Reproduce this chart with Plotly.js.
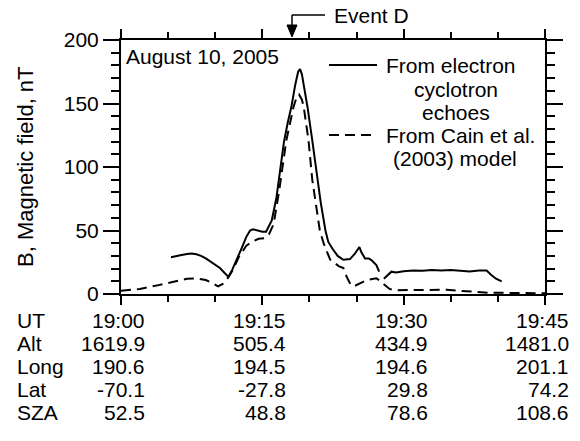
<!DOCTYPE html>
<html>
<head>
<meta charset="utf-8">
<script src="https://cdn.plot.ly/plotly-3.0.1.min.js"></script>
<style>html,body{margin:0;padding:0;background:#fff;}#chart{width:580px;height:441px;}</style>
</head>
<body>
<div id="chart"></div>
<script>
// ---- Data (minutes after 19:00 UT, B in nT) ----
const echoTime = [5.3,5.8,6.3,7.0,7.5,8.0,8.5,9.0,9.5,10.0,10.5,11.0,11.4,11.8,12.3,12.8,13.3,13.7,14.0,14.5,15.0,15.4,15.7,16.0,16.5,17.0,17.3,17.7,18.1,18.5,18.8,19.0,19.2,19.5,19.8,20.3,20.7,21.0,21.2,21.7,22.0,22.5,23.0,23.6,24.0,24.3,24.8,25.3,25.5,25.9,26.3,26.6,27.1,27.4,27.6,27.9,28.3,28.7,29.2,30.0,31.0,32.0,33.0,34.0,35.0,36.0,37.0,38.0,38.8,39.3,39.8,40.4];
const echoB    = [29,29.5,30.5,31.5,31.8,31.3,30,28,25.5,23,20.5,16.5,13.5,19,27,36,45,50,51,50,49,49,53,58,76,105,120,135,148,165,175,177,173,160,147,121,100,82,72,50,41,35,30,27,27,27.5,31.5,37,33,28,28,26.5,22.8,17.6,null,12,15,17.6,17,18,18.5,18.3,18.8,18.5,18.8,18.3,17.8,18.5,18.5,15,12,10];
const modelTime = [0,2,4,5.5,7,8,9,9.7,10.3,10.8,11.2,11.8,12.5,13.3,13.9,14.6,15.2,15.7,16.2,16.8,17.55,18.3,18.6,18.9,19.2,19.4,19.9,20.3,20.6,20.9,21.1,21.5,22.2,23.1,23.6,23.95,24.4,24.7,25.2,26.1,27.1,27.6,28.0,28.5,29.0,31.0,33.0,34.6,36.0,37.5,39.0,42.0,45.0];
const modelB    = [2.5,4,7,9.5,12,12.3,11,8.5,6,8,11,18,29,38,41,43.5,44,47,55,82,121,147,154,157,153,147,121,90,74,58,50,40,27,22,20.5,13.6,7,6,8,11,12.3,10,7,4,3,3.2,3.5,3.3,2.5,1.5,1,0.8,0.5];

// ---- Table under the axis ----
const tickMinutes = [0,15,30,45];
const rowLabels = ['UT','Alt','Long','Lat','SZA'];
const utLabels  = ['19:00','19:15','19:30','19:45'];
const altVals   = ['1619.9','505.4','434.9','1481.0'];
const longVals  = ['190.6','194.5','194.6','201.1'];
const latVals   = ['-70.1','-27.8','29.8','74.2'];
const szaVals   = ['52.5','48.8','78.6','108.6'];

const eventDTime = 18.15;

// ---- Layout geometry ----
const L = 121, T = 40, W = 424, H = 254;
const FONT = 'Liberation Sans, Arial, Helvetica, sans-serif';
const py = p => (T + H - p) / H;          // pixel y -> paper y
const px = p => (p - L) / W;              // pixel x -> paper x
const minPerPx = 45 / W;

const traces = [
  {x: echoTime, y: echoB, type:'scatter', mode:'lines', connectgaps:false,
   line:{color:'#000', width:2}, name:'From electron cyclotron echoes', hoverinfo:'skip'},
  {x: modelTime, y: modelB, type:'scatter', mode:'lines',
   line:{color:'#000', width:2, dash:'10px,6px'}, name:'From Cain et al. (2003) model', hoverinfo:'skip'}
];

const annotations = [];
const rows = [utLabels, altVals, longVals, latVals, szaVals];
const rowY = [320, 343, 366, 389, 412];
rows.forEach((vals, r) => {
  annotations.push({xref:'paper', yref:'paper', x:px(15), y:py(rowY[r]), xanchor:'left', yanchor:'middle',
    text: rowLabels[r], showarrow:false, font:{family:FONT, size:21, color:'#000'}});
  vals.forEach((v, c) => {
    annotations.push({xref:'x', yref:'paper', x: tickMinutes[c], xshift: 26, y: py(rowY[r]), xanchor:'right', yanchor:'middle',
      text: v, showarrow:false, font:{family:FONT, size:21, color:'#000'}});
  });
});

// Date label
annotations.push({xref:'paper', yref:'paper', x:px(124), y:py(56), xanchor:'left', yanchor:'middle',
  text:'August 10, 2005', showarrow:false, font:{family:FONT, size:21, color:'#000'}});
// Y title
annotations.push({xref:'paper', yref:'paper', x:px(25), y:0.5, xanchor:'center', yanchor:'middle', textangle:-90,
  text:'B, Magnetic field, nT', showarrow:false, font:{family:FONT, size:22, color:'#000'}});
// Legend text
const legendText = [
  ['From electron', 384, 65, 'left'],
  ['cyclotron', 456, 89, 'center'],
  ['echoes', 456, 112, 'center'],
  ['From Cain et al.', 384, 135, 'left'],
  ['(2003) model', 455, 158, 'center']
];
legendText.forEach(([t, x, y, a]) => annotations.push({xref:'paper', yref:'paper', x:px(x), y:py(y), xanchor:a, yanchor:'middle',
  text:t, showarrow:false, font:{family:FONT, size:21, color:'#000'}}));
// Event D text
annotations.push({xref:'x', yref:'paper', x: eventDTime + (332-292)*minPerPx, y: py(16), xanchor:'left', yanchor:'middle',
  text:'Event D', showarrow:false, font:{family:FONT, size:21, color:'#000'}});

const ex = eventDTime, hw = 5*minPerPx;
const shapes = [
  // legend samples
  {type:'line', xref:'paper', yref:'paper', x0:px(329), x1:px(377), y0:py(65), y1:py(65), line:{color:'#000', width:2}},
  {type:'line', xref:'paper', yref:'paper', x0:px(329), x1:px(377), y0:py(135), y1:py(135), line:{color:'#000', width:2, dash:'10px,6px'}},
  // Event D elbow arrow
  {type:'line', xref:'x', yref:'paper', x0:ex, x1:ex + (325-292)*minPerPx, y0:py(15), y1:py(15), line:{color:'#000', width:1.5}},
  {type:'line', xref:'x', yref:'paper', x0:ex, x1:ex, y0:py(15), y1:py(27), line:{color:'#000', width:1.5}},
  {type:'path', xref:'x', yref:'paper', path:`M ${ex-hw},${py(25)} L ${ex+hw},${py(25)} L ${ex},${py(37)} Z`,
   fillcolor:'#000', line:{color:'#000', width:1}}
];

const layout = {
  width:580, height:441,
  margin:{l:L, r:580-L-W, t:T, b:441-T-H, pad:0},
  paper_bgcolor:'#fff', plot_bgcolor:'#fff',
  showlegend:false,
  font:{family:FONT, size:21, color:'#000'},
  xaxis:{range:[0,45], tickmode:'linear', tick0:0, dtick:15, showticklabels:false,
    ticks:'outside', ticklen:9, tickwidth:2, tickcolor:'#000',
    minor:{tickmode:'linear', tick0:0, dtick:5, ticks:'outside', ticklen:6, tickwidth:2, tickcolor:'#000', showgrid:false},
    showline:true, linewidth:2, linecolor:'#000', mirror:'ticks', showgrid:false, zeroline:false, fixedrange:true},
  yaxis:{range:[0,200], tickmode:'linear', tick0:0, dtick:50,
    ticks:'outside', ticklen:16, tickwidth:2, tickcolor:'#000',
    minor:{tickmode:'linear', tick0:0, dtick:10, ticks:'outside', ticklen:8, tickwidth:2, tickcolor:'#000', showgrid:false},
    tickfont:{family:FONT, size:21, color:'#000'},
    showline:true, linewidth:2, linecolor:'#000', mirror:'ticks', showgrid:false, zeroline:false, fixedrange:true},
  annotations: annotations,
  shapes: shapes
};

Plotly.newPlot('chart', traces, layout, {displayModeBar:false, staticPlot:true});
</script>
</body>
</html>
